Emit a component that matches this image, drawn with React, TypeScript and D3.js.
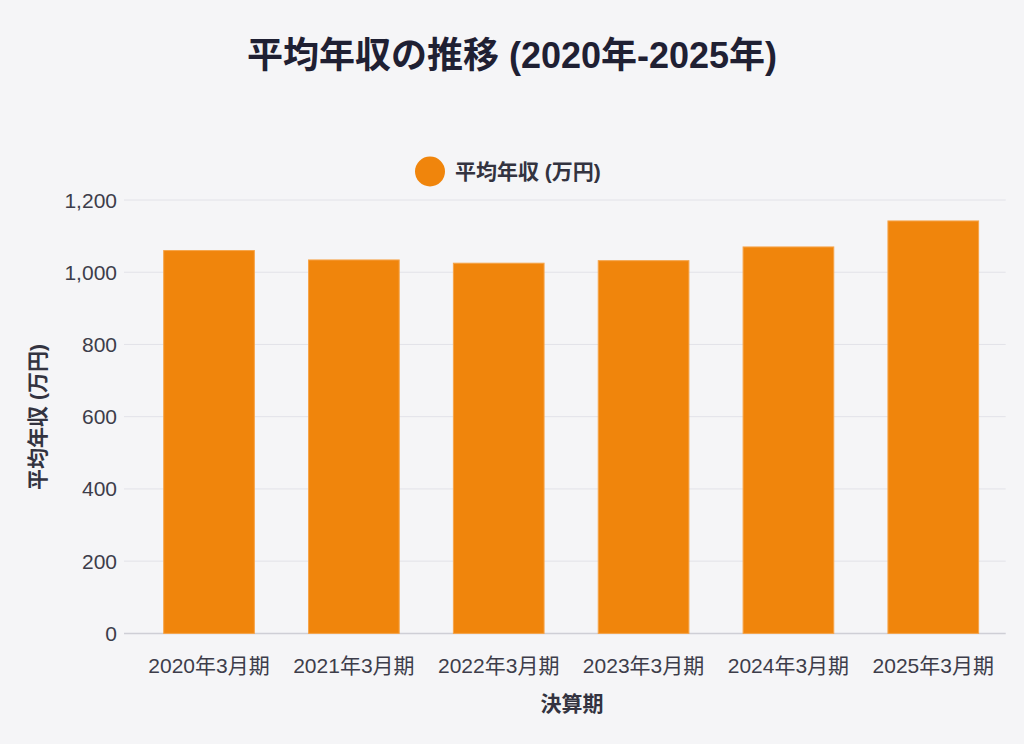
import * as d3 from "d3";

const periods = [
  "2020年3月期",
  "2021年3月期",
  "2022年3月期",
  "2023年3月期",
  "2024年3月期",
  "2025年3月期",
];
const avgIncome = [1060, 1034, 1025, 1032, 1070, 1142];
const yTicks = [0, 200, 400, 600, 800, 1000, 1200];

const title = "平均年収の推移 (2020年-2025年)";
const seriesName = "平均年収 (万円)";
const xTitle = "決算期";
const yTitle = "平均年収 (万円)";

const width = 1024;
const height = 744;
const font = "'Liberation Sans', 'Noto Sans CJK JP', sans-serif";
const barColor = "#f0850c";

export default function App() {
  const x = d3
    .scaleBand<string>()
    .domain(periods)
    .range([136.6, 1005.7])
    .paddingInner(0.374)
    .paddingOuter(0.187);
  const y = d3.scaleLinear().domain([0, 1200]).range([633.4, 200]);
  const fmt = d3.format(",");

  return (
    <div style={{ position: "absolute", left: 0, top: 0 }}>
      <svg width={width} height={height} style={{ display: "block", fontFamily: font }}>
        <rect width={width} height={height} fill="#f5f5f7" />

        <text x={512} y={68} textAnchor="middle" fontSize={36} fontWeight={700} fill="#1f2033">
          {title}
        </text>

        <circle cx={430} cy={171.5} r={15} fill={barColor} />
        <text x={455} y={179} fontSize={21} fontWeight={700} fill="#333340">
          {seriesName}
        </text>

        {yTicks.map((t) => (
          <g key={t}>
            <line
              x1={124}
              x2={1005.7}
              y1={y(t)}
              y2={y(t)}
              stroke={t === 0 ? "#cfcfd6" : "#e2e2e8"}
              strokeWidth={t === 0 ? 1.5 : 1}
            />
            <text x={117} y={y(t) + 7.5} textAnchor="end" fontSize={21} fill="#3d3d4a">
              {fmt(t)}
            </text>
          </g>
        ))}

        {periods.map((p, i) => (
          <rect
            key={p}
            x={x(p)}
            y={y(avgIncome[i])}
            width={x.bandwidth()}
            height={y(0) - y(avgIncome[i])}
            fill={barColor}
            stroke="#f6a449"
            strokeWidth={1}
          />
        ))}

        {periods.map((p) => (
          <text
            key={p}
            x={(x(p) ?? 0) + x.bandwidth() / 2}
            y={673}
            textAnchor="middle"
            fontSize={21}
            fill="#3d3d4a"
          >
            {p}
          </text>
        ))}

        <text x={572} y={711} textAnchor="middle" fontSize={21} fontWeight={700} fill="#333340">
          {xTitle}
        </text>

        <text
          transform={`translate(45,417) rotate(-90)`}
          textAnchor="middle"
          fontSize={21}
          fontWeight={700}
          fill="#333340"
        >
          {yTitle}
        </text>
      </svg>
    </div>
  );
}
